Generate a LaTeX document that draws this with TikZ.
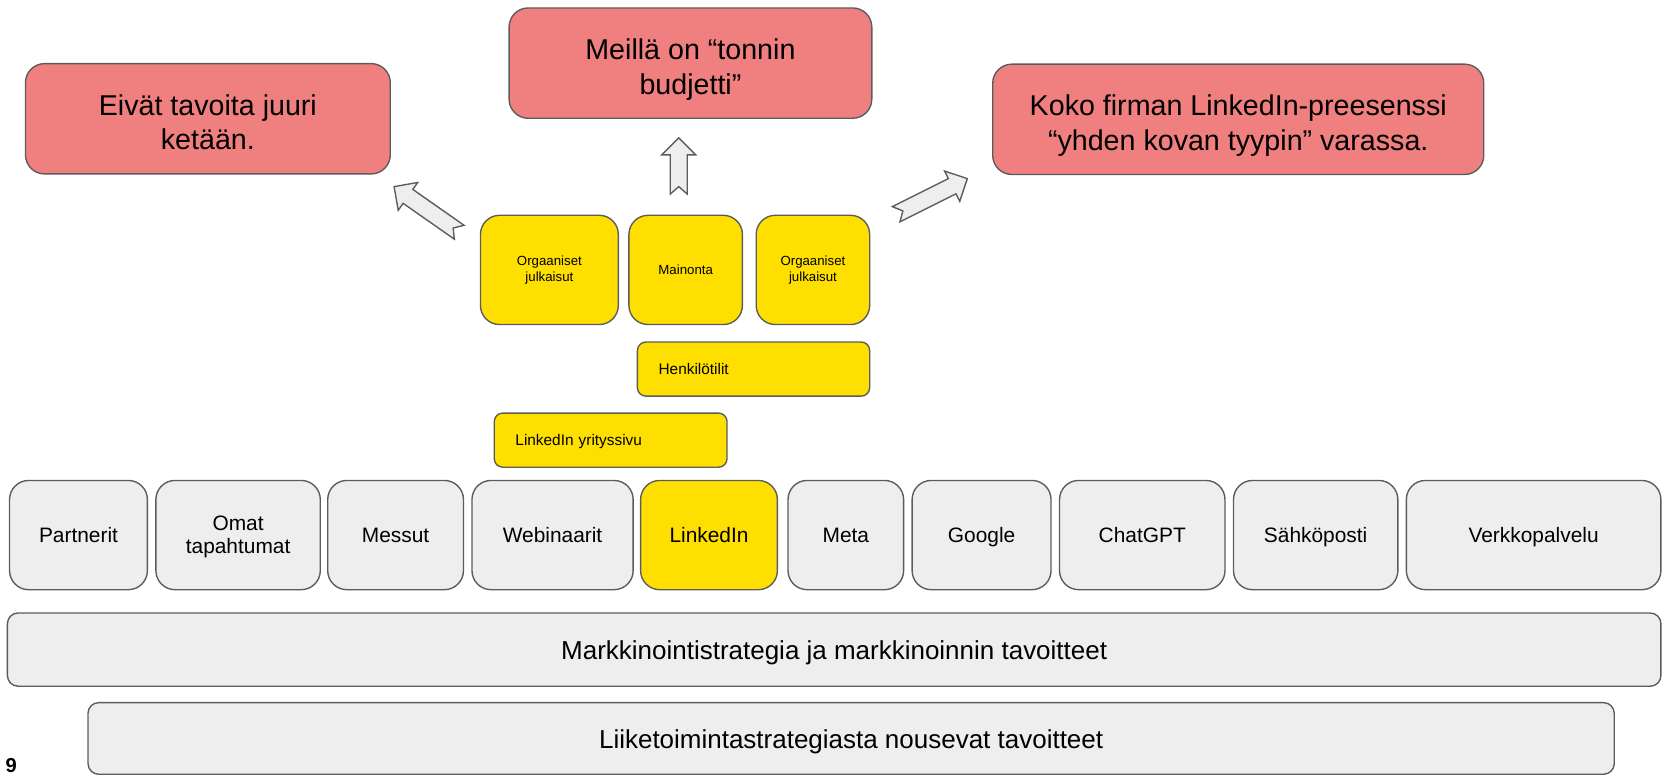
\documentclass[tikz,border=0pt]{standalone}
\usepackage{fontspec}
\setmainfont{Liberation Sans}
\usepackage{xcolor}
\usepackage{tikz}
\usetikzlibrary{positioning}
\definecolor{boxred}{RGB}{240,128,128}
\definecolor{boxyellow}{RGB}{255,223,0}
\definecolor{boxgrey}{RGB}{238,238,238}
\definecolor{boxline}{RGB}{92,92,92}
\tikzset{
block/.style={draw=boxline, line width=1.3pt, inner sep=0pt, align=center}, % common look of every box
problem/.style={block, fill=boxred, rounded corners=18pt, minimum height=104pt, text height=64pt, text depth=5.7pt, font=\fontsize{27}{32.5}\selectfont},
tactic/.style={block, fill=boxyellow, rounded corners=18pt, minimum height=103pt, font=\fontsize{12.5}{15}\selectfont},
account/.style={block, fill=boxyellow, rounded corners=8pt, minimum height=51pt, inner xsep=20pt, align=left, text height=13pt, text depth=2pt, font=\fontsize{14.5}{17}\selectfont},
channel/.style={block, fill=boxgrey, rounded corners=18pt, minimum height=103pt, text height=17.7pt, text depth=2.8pt, font=\fontsize{19.7}{21.5}\selectfont},
base/.style={block, fill=boxgrey, rounded corners=10pt, text height=22pt, text depth=3.4pt, font=\fontsize{24.5}{28}\selectfont},
arrow body/.style={draw=boxline, line width=1.3pt, fill=boxgrey, line join=miter},
notched arrow/.pic={ % block arrow with a notched tail, #1 = length
  \path[arrow body] (0,-8) -- (#1-16,-8) -- (#1-16,-16) -- (#1,0) -- (#1-16,16) -- (#1-16,8) -- (0,8) -- (7,0) -- cycle;
},
}

\begin{document}
\begin{tikzpicture}[x=1pt, y=-1pt]
    \useasboundingbox (0,0) rectangle (1568,730);

    % what goes wrong
    \node[problem, minimum width=344pt] (reach) at (196,112) {Eivät tavoita juuri\\ketään.};
    \node[problem, minimum width=342pt] (budget) at (651,59.5) {Meillä on “tonnin\\budjetti”};
    \node[problem, minimum width=463pt] (person) at (1167.5,112.5) {Koko firman LinkedIn-preesenssi\\“yhden kovan tyypin” varassa.};

    \pic[rotate=145] at (433,219) {notched arrow=75};
    \pic[rotate=90] at (640,183) {notched arrow=53};
    \pic[rotate=26.6] at (845,202) {notched arrow=75};

    % LinkedIn tactics
    \node[tactic, minimum width=130pt] (organic1) at (518,254.5) {Orgaaniset\\julkaisut};
    \node[tactic, text height=11.25pt, text depth=1.75pt, minimum width=107pt] (ads) at (646.5,254.5) {Mainonta};
    \node[tactic, minimum width=107pt] (organic2) at (766.5,254.5) {Orgaaniset\\julkaisut};
    \node[account, text width=179pt] (personal) at (710.5,348) {Henkilötilit};
    \node[account, text width=179.5pt] (company) at (575.75,415) {LinkedIn yrityssivu};

    % channels
    \node[channel, minimum width=130pt] (partners) at (74,504.5) {Partnerit};
    \node[channel, text height=38.1pt, text depth=4.1pt, minimum width=155pt] (events) at (224.5,504.5) {Omat\\tapahtumat};
    \node[channel, minimum width=128pt] (fairs) at (373,504.5) {Messut};
    \node[channel, minimum width=152pt] (webinars) at (521,504.5) {Webinaarit};
    \node[channel, fill=boxyellow, minimum width=129pt] (linkedin) at (668.5,504.5) {LinkedIn};
    \node[channel, minimum width=109pt] (meta) at (797.5,504.5) {Meta};
    \node[channel, minimum width=131pt] (google) at (925.5,504.5) {Google};
    \node[channel, minimum width=156pt] (chatgpt) at (1077,504.5) {ChatGPT};
    \node[channel, minimum width=155pt] (email) at (1240.5,504.5) {Sähköposti};
    \node[channel, minimum width=240pt] (web) at (1446,504.5) {Verkkopalvelu};

    % strategy layers
    \node[base, minimum width=1559pt, minimum height=69pt] (marketing) at (786.5,612.5) {Markkinointistrategia ja markkinoinnin tavoitteet};
    \node[base, minimum width=1439pt, minimum height=67.5pt] (business) at (802.5,696.25) {Liiketoimintastrategiasta nousevat tavoitteet};

    \node[anchor=base west, inner sep=0pt, font=\bfseries\fontsize{19}{19}\selectfont] (pagenum) at (5,728) {9};
\end{tikzpicture}
\end{document}
